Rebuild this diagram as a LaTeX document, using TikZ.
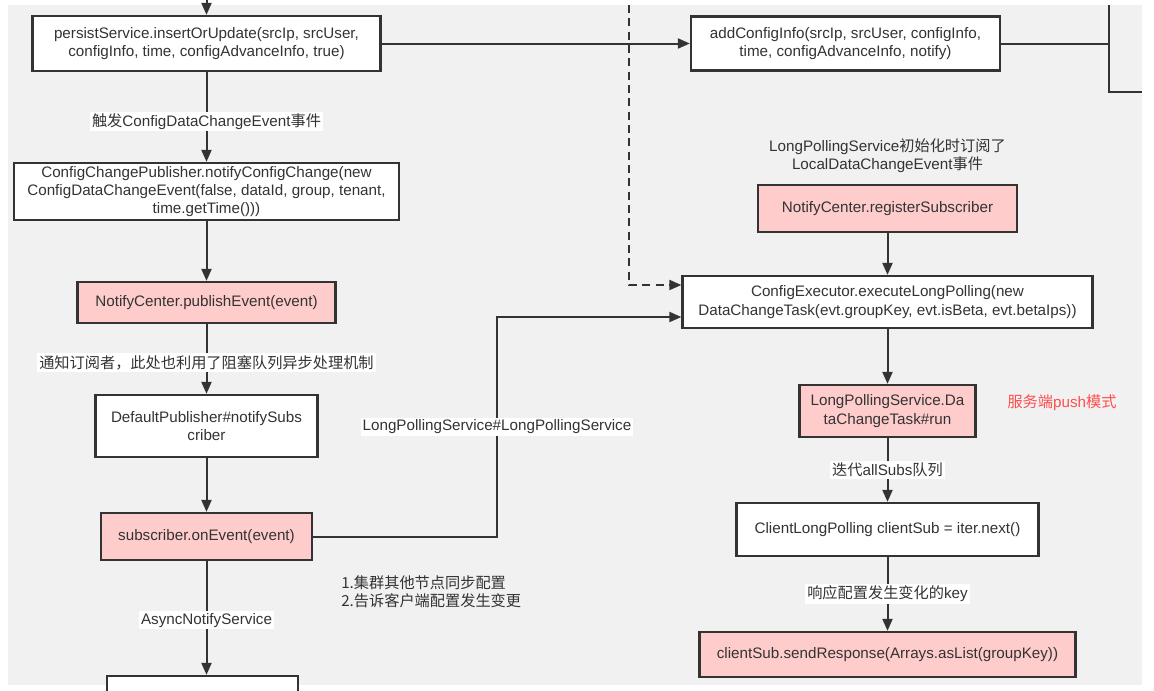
\documentclass[tikz,border=0pt]{standalone}
\usepackage{fontspec}
\setmainfont{Liberation Sans}
\newfontfamily\cjk{Noto Sans CJK SC}
\usetikzlibrary{arrows.meta}
\definecolor{bggray}{HTML}{F1F1F1}
\definecolor{ink}{HTML}{333333}
\definecolor{pinkfill}{HTML}{FFCCCC}
\definecolor{hint}{HTML}{FF4D4D}
\begin{document}
\begin{tikzpicture}[x=0.75pt,y=-0.75pt,
	box/.style={draw=ink,line width=1.7pt,fill=white,align=center,inner sep=2pt,
		text=ink,font=\fontsize{11.4}{13.6}\selectfont},
	hot/.style={box,fill=pinkfill},
	lbl/.style={fill=white,inner sep=1.5pt,text=ink,font=\fontsize{11.4}{13.6}\selectfont},
	note/.style={align=center,inner sep=0pt,text=ink,font=\fontsize{11.4}{13.6}\selectfont},
	conn/.style={draw=ink,line width=1.5pt},
	arr/.style={conn,-{Triangle[length=9pt,width=7.5pt]}}]
	%背景
	\clip (0,0) rectangle (1154,690);
	\fill[white] (0,0) rectangle (1154,690);
	\fill[bggray] (8,5) rectangle (1142,685);
	%左列
	\node[box,minimum width=261pt,minimum height=41.25pt] (persist) at (206.5,43.5)
	{persistService.insertOrUpdate(srcIp, srcUser,\\configInfo, time, configAdvanceInfo, true)};
	\node[box,minimum width=288.75pt,minimum height=42.75pt] (publisher) at (206.5,191.5)
	{ConfigChangePublisher.notifyConfigChange(new\\ConfigDataChangeEvent(false, dataId, group, tenant,\\time.getTime()))};
	\node[hot,minimum width=193.5pt,minimum height=30.75pt] (publish) at (206.5,302.5)
	{NotifyCenter.publishEvent(event)};
	\node[box,minimum width=166.5pt,minimum height=46.5pt] (defpub) at (206.5,426)
	{DefaultPublisher\#notifySubs\\criber};
	\node[hot,minimum width=158.25pt,minimum height=35.25pt] (subscriber) at (206.5,536.5)
	{subscriber.onEvent(event)};
	\node[box,minimum width=143.25pt,minimum height=30pt] (asyncbox) at (202.5,696) {};
	\node[note,align=left,anchor=west] (syncnote) at (341,592)
	{\cjk 1.集群其他节点同步配置\\\cjk 2.告诉客户端配置发生变更};
	%右列
	\node[box,minimum width=231.75pt,minimum height=40.5pt] (addcfg) at (845.5,43.5)
	{addConfigInfo(srcIp, srcUser, configInfo,\\time, configAdvanceInfo, notify)};
	\node[note] (initnote) at (887.5,156)
	{LongPollingService{\cjk 初始化时订阅了}\\LocalDataChangeEvent{\cjk 事件}};
	\node[hot,minimum width=194.25pt,minimum height=35.25pt] (register) at (887.5,208.5)
	{NotifyCenter.registerSubscriber};
	\node[box,minimum width=307.5pt,minimum height=39pt] (executor) at (887.5,302)
	{ConfigExecutor.executeLongPolling(new\\DataChangeTask(evt.groupKey, evt.isBeta, evt.betaIps))};
	\node[hot,minimum width=132pt,minimum height=39pt] (dctask) at (887.5,411)
	{LongPollingService.Da\\taChangeTask\#run};
	\node[note,text=hint] (pushnote) at (1062,403) {{\cjk 服务端}push{\cjk 模式}};
	\node[box,minimum width=226.5pt,minimum height=39.75pt] (clientsub) at (887.5,529.5)
	{ClientLongPolling clientSub = iter.next()};
	\node[hot,minimum width=282pt,minimum height=33.75pt] (sendresp) at (887.5,654.5)
	{clientSub.sendResponse(Arrays.asList(groupKey))};
	%折点
	\coordinate (topin) at (206.5,0);
	\coordinate (dashtop) at (629,5);
	\coordinate (dashbend) at (629,285);
	\coordinate (railtop) at (1109,5);
	\coordinate (railjoin) at (1109,43.5);
	\coordinate (railbend) at (1109,92);
	\coordinate (railend) at (1142,92);
	\coordinate (bendA) at (497,536.5);
	\coordinate (bendB) at (497,317);
	%连线
	\draw[arr] (topin) -- (persist);
	\draw[arr] (persist) -- (addcfg);
	\draw[conn] (addcfg) -- (railjoin);
	\draw[conn] (railtop) -- (railbend) -- (railend);
	\draw[arr] (persist) -- node[lbl,pos=0.55] {{\cjk 触发}ConfigDataChangeEvent{\cjk 事件}} (publisher);
	\draw[arr] (publisher) -- (publish);
	\draw[arr] (publish) -- node[lbl,pos=0.55] {\cjk 通知订阅者，此处也利用了阻塞队列异步处理机制} (defpub);
	\draw[arr] (defpub) -- (subscriber);
	\draw[arr] (subscriber.south) -- node[lbl,pos=0.52] {AsyncNotifyService} (subscriber.south |- asyncbox.north);
	\draw[arr] (subscriber.east) -- (bendA) -- node[lbl] {LongPollingService\#LongPollingService} (bendB) -- (bendB -| executor.west);
	\draw[arr,dash pattern=on 6pt off 4pt] (dashtop) -- (dashbend) -- (dashbend -| executor.west);
	\draw[arr] (register) -- (executor);
	\draw[arr] (executor) -- (dctask);
	\draw[arr] (dctask) -- node[lbl] {{\cjk 迭代}allSubs{\cjk 队列}} (clientsub);
	\draw[arr] (clientsub) -- node[lbl] {{\cjk 响应配置发生变化的}key} (sendresp);
\end{tikzpicture}
\end{document}
